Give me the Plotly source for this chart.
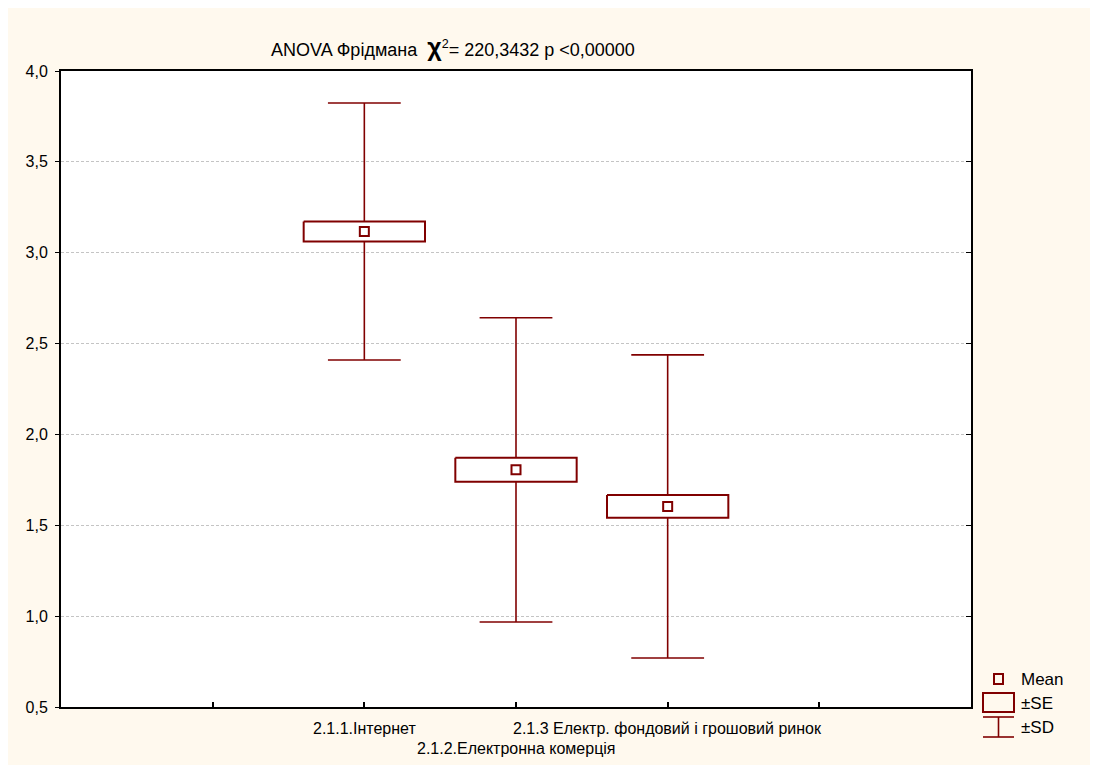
import plotly.graph_objects as go

# ---- data ----
categories = ["2.1.1.Інтернет", "2.1.2.Електронна комерція", "2.1.3 Електр. фондовий і грошовий ринок"]
positions = [1, 2, 3]
label_rows = [0, 1, 0]
means = [3.117, 1.805, 1.604]
se = [0.055, 0.066, 0.063]
sd = [0.707, 0.837, 0.834]
y_ticks = [0.5, 1.0, 1.5, 2.0, 2.5, 3.0, 3.5, 4.0]
y_tick_labels = ["0,5", "1,0", "1,5", "2,0", "2,5", "3,0", "3,5", "4,0"]
x_tick_vals = [0, 1, 2, 3, 4]

RED = "#800000"
CREAM = "#FFF9EE"
BOX_HALF = 0.40
CAP_HALF = 0.24
FONT = "Liberation Sans, Arial"

# screen geometry: page body offset 8px; plot area at x 61..971, y 71..707 on screen
OFF = 8
L, R, T, B = 61, 971, 71, 707
W, H = 1098 - OFF, 765 - OFF


def px(x):
    return (x - L) / (R - L)


def py(y):
    return (B - y) / (B - T)


fig = go.Figure()

for p, m, s, d in zip(positions, means, se, sd):
    # SD whiskers
    wx = [p - CAP_HALF, p + CAP_HALF, None, p, p, None, p, p, None, p - CAP_HALF, p + CAP_HALF]
    wy = [m + d, m + d, None, m + d, m + s, None, m - s, m - d, None, m - d, m - d]
    fig.add_trace(go.Scatter(x=wx, y=wy, mode="lines", line=dict(color=RED, width=1.6),
                             showlegend=False, hoverinfo="skip"))
    # SE box
    bx = [p - BOX_HALF, p + BOX_HALF, p + BOX_HALF, p - BOX_HALF, p - BOX_HALF]
    by = [m + s, m + s, m - s, m - s, m + s]
    fig.add_trace(go.Scatter(x=bx, y=by, mode="lines", line=dict(color=RED, width=2),
                             showlegend=False, hoverinfo="skip"))

# means
fig.add_trace(go.Scatter(x=positions, y=means, mode="markers",
                         marker=dict(symbol="square-open", size=9, color=RED, line=dict(width=2, color=RED)),
                         showlegend=False))

# invisible trace on the right axis so its inner ticks are drawn
fig.add_trace(go.Scatter(x=[positions[0]], y=[means[0]], yaxis="y2", mode="markers",
                         marker=dict(opacity=0), showlegend=False, hoverinfo="skip"))

shapes = [
    # legend: Mean
    dict(type="rect", xref="paper", yref="paper", x0=px(994), x1=px(1003), y0=py(684), y1=py(674),
         line=dict(color=RED, width=2)),
    # legend: SE
    dict(type="rect", xref="paper", yref="paper", x0=px(983), x1=px(1014), y0=py(712), y1=py(693),
         line=dict(color=RED, width=2)),
    # legend: SD
    dict(type="line", xref="paper", yref="paper", x0=px(983), x1=px(1014), y0=py(717), y1=py(717),
         line=dict(color=RED, width=1.6)),
    dict(type="line", xref="paper", yref="paper", x0=px(998.5), x1=px(998.5), y0=py(717), y1=py(737),
         line=dict(color=RED, width=1.6)),
    dict(type="line", xref="paper", yref="paper", x0=px(983), x1=px(1014), y0=py(737), y1=py(737),
         line=dict(color=RED, width=1.6)),
]

annotations = [
    dict(xref="paper", yref="paper", x=px(453), y=py(47), xanchor="center", yanchor="middle",
         showarrow=False, font=dict(family=FONT, size=18, color="black"),
         text="ANOVA Фрідмана  <b><span style='font-size:25px'>χ</span></b><sup>2</sup>= 220,3432 p <0,00000"),
]
for label, yc in [("Mean", 679), ("±SE", 703), ("±SD", 727)]:
    annotations.append(dict(xref="paper", yref="paper", x=px(1019), y=py(yc), xanchor="left", yanchor="middle",
                            showarrow=False, text=label,
                            font=dict(family=FONT, size=17, color="black")))
# category labels (staggered like the original)
for p, cat, row in zip(positions, categories, label_rows):
    annotations.append(dict(xref="x", yref="paper", x=p, y=0, xanchor="center", yanchor="middle",
                            yshift=-(21 + 20 * row), showarrow=False, text=cat,
                            font=dict(family=FONT, size=16, color="black")))

fig.update_layout(
    width=W, height=H,
    margin=dict(l=L - OFF, r=W - (R - OFF), t=T - OFF, b=H - (B - OFF), pad=0),
    paper_bgcolor=CREAM, plot_bgcolor="white",
    font=dict(family=FONT, size=16, color="black"),
    showlegend=False,
    shapes=shapes,
    annotations=annotations,
    xaxis=dict(range=[-1, 5], tickvals=x_tick_vals, showticklabels=False, automargin=False,
               ticks="inside", ticklen=5, tickwidth=1.5, tickcolor="black",
               showgrid=False, zeroline=False, showline=True, linecolor="black", linewidth=2,
               mirror=True),
    yaxis=dict(range=[0.5, 4.0], tickvals=y_ticks, ticktext=y_tick_labels, automargin=False,
               ticks="outside", ticklen=4, tickwidth=1, tickcolor="black",
               showgrid=True, gridcolor="#C4C4C4", griddash="3px,2px", gridwidth=1,
               zeroline=False, showline=True, linecolor="black", linewidth=2, mirror=True,
               tickfont=dict(size=16), ticklabelstandoff=4),
    yaxis2=dict(range=[0.5, 4.0], tickvals=y_ticks[1:-1], showticklabels=False, automargin=False,
                overlaying="y", side="right", ticks="inside", ticklen=5, tickcolor="black",
                showgrid=False, zeroline=False, showline=False),
)

fig.write_html("out.html")
